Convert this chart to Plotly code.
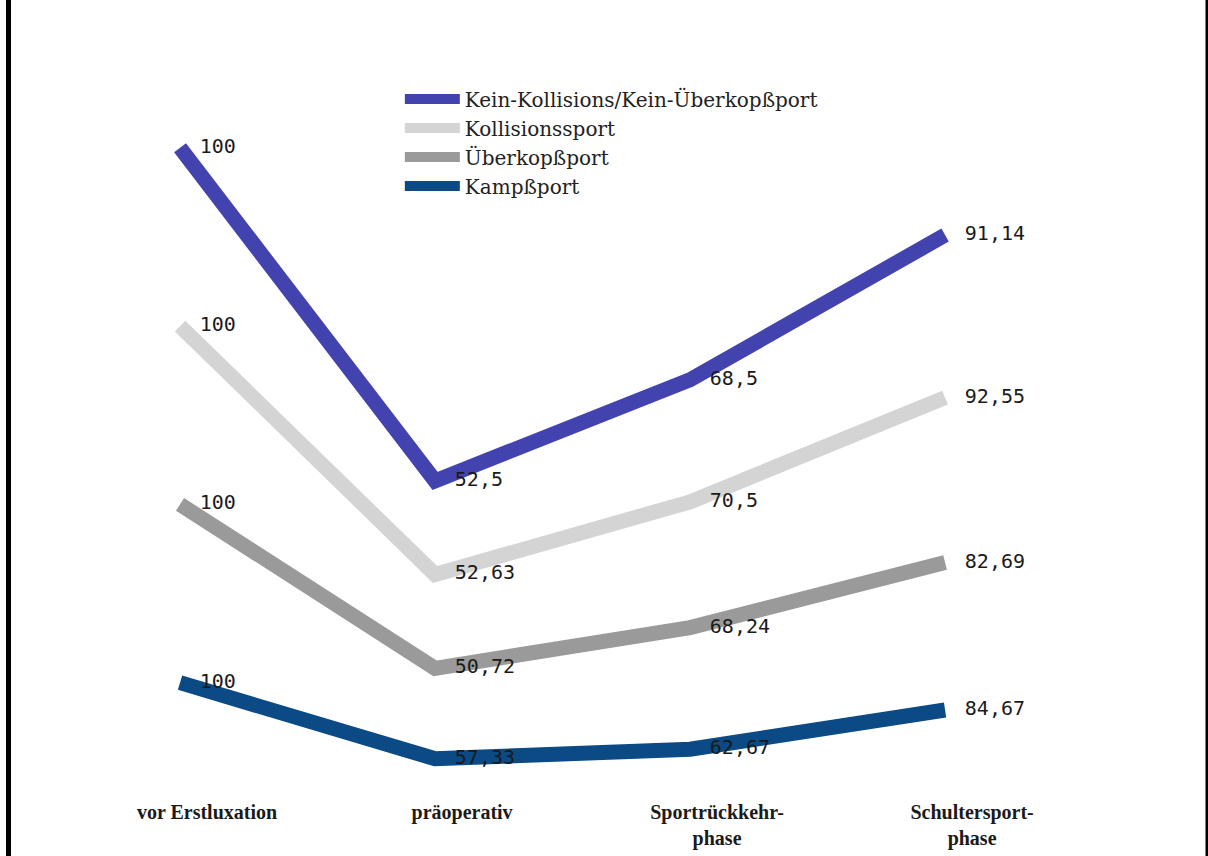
import plotly.graph_objects as go

# Phasen (x-Achse) und Werte je Sportart
phasen = ["vor Erstluxation", "präoperativ", "Sportrückkehr-<br>phase", "Schultersport-<br>phase"]
kampfsport = [100, 57.33, 62.67, 84.67]
ueberkopfsport = [100, 50.72, 68.24, 82.69]
kollisionssport = [100, 52.63, 70.5, 92.55]
kein_kollision_ueberkopf = [100, 52.5, 68.5, 91.14]

namen = ["Kampßport", "Überkopßport", "Kollisionssport", "Kein-Kollisions/Kein-Überkopßport"]
farben = ["#0b4a84", "#9a9a9a", "#d4d4d4", "#4343b0"]
werte = [kampfsport, ueberkopfsport, kollisionssport, kein_kollision_ueberkopf]

x_pos = list(range(len(phasen)))


def fmt(v):
    return f"{v:g}".replace(".", ",")


fig = go.Figure()
for name, farbe, reihe in zip(namen, farben, werte):
    fig.add_trace(go.Scatter(
        x=x_pos,
        y=reihe,
        name=name,
        stackgroup="gestapelt",
        fill="none",
        mode="lines+markers+text",
        line=dict(color=farbe, width=15),
        # unsichtbare Marker halten die Werte-Beschriftung etwas vom Punkt weg
        marker=dict(size=30, color="rgba(0,0,0,0)", line=dict(width=0)),
        text=[fmt(v) for v in reihe],
        textposition="middle right",
        textfont=dict(family="DejaVu Sans Mono", size=20, color="#1a1a1a"),
        hoverinfo="skip",
    ))

fig.update_layout(
    width=1208,
    height=856,
    margin=dict(l=0, r=0, t=0, b=61),
    paper_bgcolor="white",
    plot_bgcolor="white",
    showlegend=True,
    legend=dict(
        x=0.331, y=0.90, xanchor="left", yanchor="top",
        traceorder="reversed",
        font=dict(family="DejaVu Serif", size=20, color="#222222"),
        bgcolor="rgba(0,0,0,0)",
        itemwidth=55,
    ),
    xaxis=dict(
        range=[-0.706, 4.031],
        tickvals=x_pos,
        ticktext=[f"<b>{p}</b>" for p in phasen],
        tickfont=dict(family="Liberation Serif", size=20, color="#1a1a1a"),
        ticklabelshift=27,
        ticklabelstandoff=3,
        showgrid=False,
        zeroline=False,
        showline=False,
        ticks="",
    ),
    yaxis=dict(
        range=[37.0, 482.9],
        visible=False,
        showgrid=False,
        zeroline=False,
    ),
    shapes=[
        dict(type="line", xref="paper", yref="paper", x0=8.5 / 1208, x1=8.5 / 1208,
             y0=-0.08, y1=1.0, line=dict(color="black", width=5)),
        dict(type="line", xref="paper", yref="paper", x0=1207 / 1208, x1=1207 / 1208,
             y0=-0.08, y1=1.0, line=dict(color="black", width=3)),
    ],
)

fig.write_html("out.html")
